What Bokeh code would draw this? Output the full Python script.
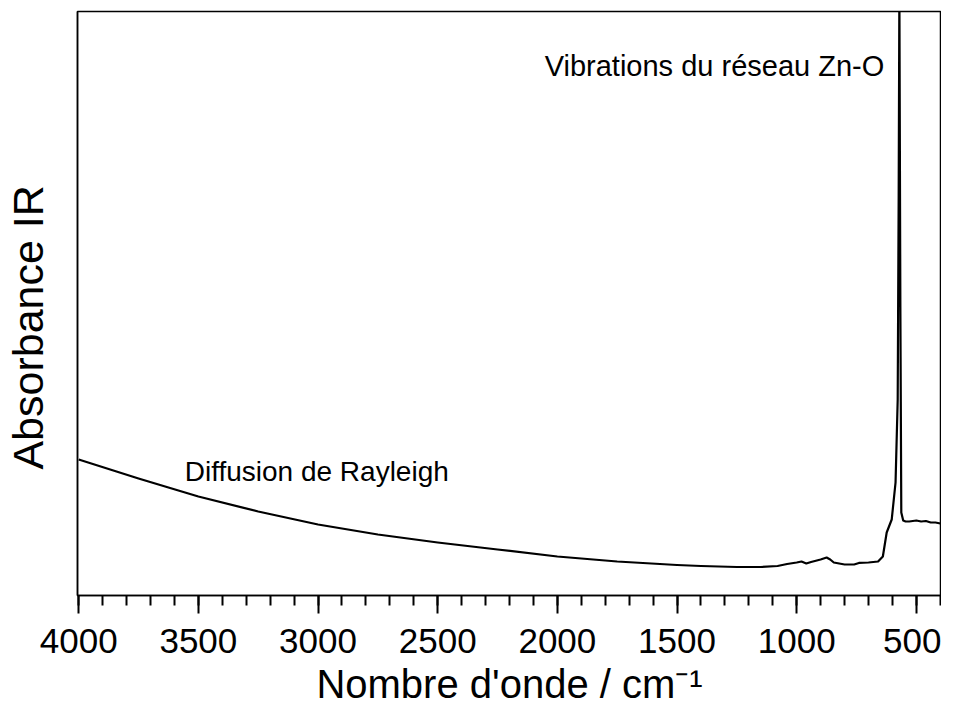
from bokeh.plotting import figure
from bokeh.models import Range1d, SingleIntervalTicker, FixedTicker, Label
from bokeh.embed import file_html
from bokeh.resources import INLINE

# Wavenumbers (cm-1) and IR absorbance (arbitrary units)
wavenumber = [4000, 3750, 3500, 3250, 3000, 2750, 2500, 2250, 2000, 1750,
              1500, 1400, 1250, 1150, 1080, 1040, 1000, 980, 960, 940,
              900, 875, 860, 845, 800, 760, 740, 700, 660, 640,
              624, 603, 587, 578, 574, 571, 567, 563, 555, 545,
              530, 500, 480, 460, 440, 420, 400, 390]
absorbance = [23.29, 20.03, 16.95, 14.38, 12.16, 10.45, 9.08, 7.88, 6.68, 5.82,
              5.22, 5.05, 4.88, 4.88, 5.05, 5.39, 5.65, 5.82, 5.48, 5.74,
              6.16, 6.51, 6.16, 5.65, 5.31, 5.31, 5.57, 5.65, 5.82, 6.68,
              10.79, 13.01, 19.35, 33.56, 67.81, 104.0, 50.68, 14.21, 12.84, 12.67,
              12.67, 12.84, 12.67, 12.76, 12.50, 12.50, 12.33, 12.33]

x_ticks_major = 500
x_minor_per_major = 5
x_start, x_end = 4005, 395
y_start, y_end = 0, 100

# (text, x, y, font size)
annotations = [
    ("Vibrations du réseau Zn-O", 2053, 90.6, "29px"),
    ("Diffusion de Rayleigh", 3557, 21.2, "28px"),
]

FONT = "Liberation Sans"

p = figure(width=941, height=708, output_backend="svg", toolbar_location=None,
           x_range=Range1d(x_start, x_end), y_range=Range1d(y_start, y_end),
           min_border_left=76, min_border_right=0, min_border_top=11,
           min_border_bottom=112)

p.background_fill_color = "white"
p.border_fill_color = "white"
p.grid.visible = False
p.outline_line_color = "black"
p.outline_line_width = 1.5

p.line(wavenumber, absorbance, line_color="black", line_width=2.2, line_join="round")

# x axis
xa = p.xaxis[0]
xa.ticker = SingleIntervalTicker(interval=x_ticks_major, num_minor_ticks=x_minor_per_major)
xa.axis_line_color = "black"
xa.axis_line_width = 1.5
xa.major_tick_in = 0
xa.major_tick_out = 18
xa.minor_tick_in = 0
xa.minor_tick_out = 10
xa.major_tick_line_color = "black"
xa.major_tick_line_width = 2
xa.minor_tick_line_color = "black"
xa.minor_tick_line_width = 2
xa.major_label_text_font = FONT
xa.major_label_text_font_size = "35px"
xa.major_label_text_color = "black"
xa.major_label_standoff = 15
xa.axis_label = "Nombre d'onde / cm\u207b\u00b9"
xa.axis_label_text_font = FONT
xa.axis_label_text_font_size = "40px"
xa.axis_label_text_font_style = "normal"
xa.axis_label_text_color = "black"
xa.axis_label_standoff = 6

# y axis
ya = p.yaxis[0]
ya.ticker = FixedTicker(ticks=[])
ya.axis_line_color = "black"
ya.axis_line_width = 1.5
ya.major_tick_out = 0
ya.minor_tick_out = 0
ya.major_label_text_font_size = "0px"
ya.axis_label = "Absorbance IR\u00a0\u00a0\u00a0\u00a0"
ya.axis_label_text_font = FONT
ya.axis_label_text_font_size = "43px"
ya.axis_label_text_font_style = "normal"
ya.axis_label_text_color = "black"
ya.axis_label_standoff = 26

for txt, xv, yv, fs in annotations:
    p.add_layout(Label(x=xv, y=yv, text=txt, text_font=FONT, text_font_size=fs,
                       text_color="black", text_align="left", text_baseline="alphabetic"))

open("out.html", "w").write(file_html(p, INLINE))
